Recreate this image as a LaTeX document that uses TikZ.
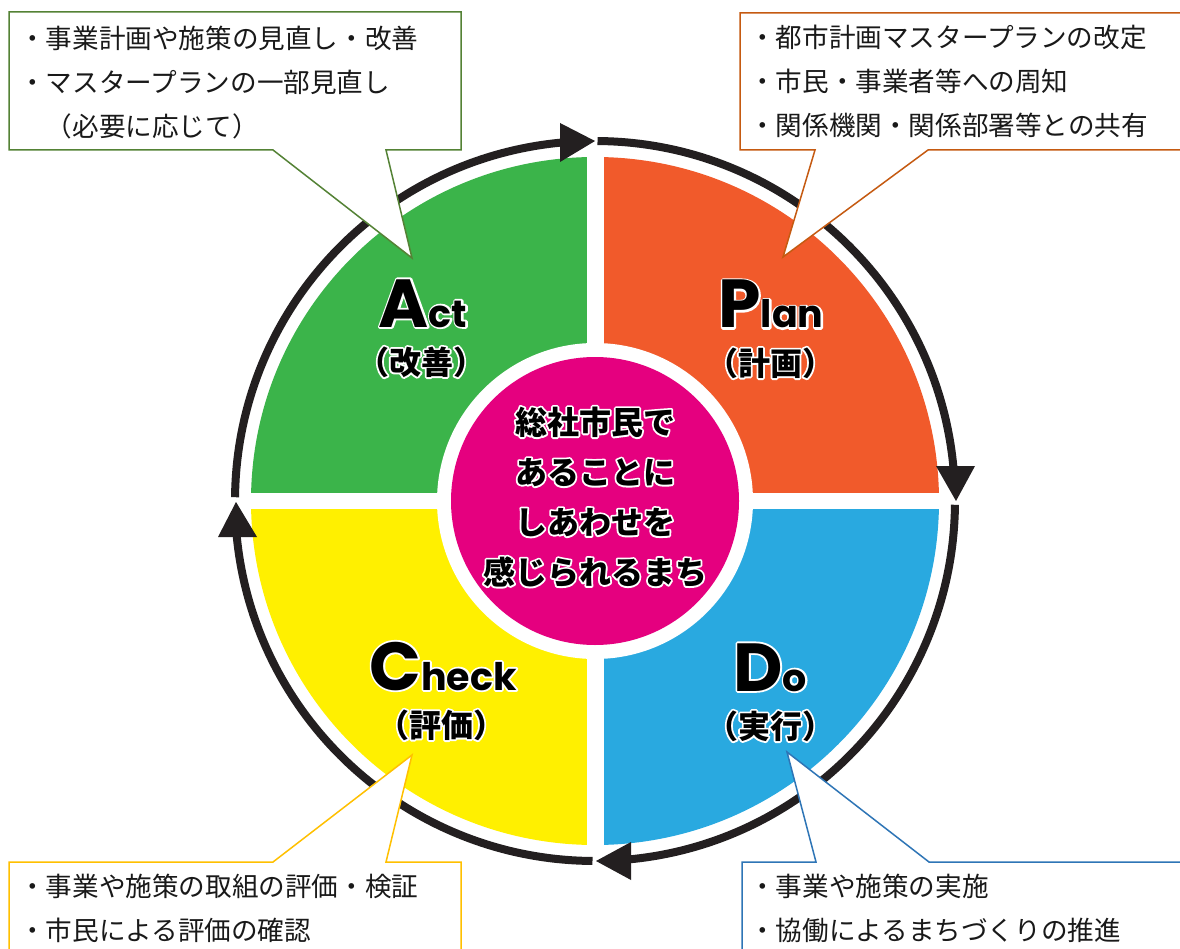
\documentclass[tikz,border=0pt]{standalone}
\usepackage{fontspec}
\newfontfamily\jp{Noto Sans CJK JP}
\newfontfamily\pop{Poppins}
\definecolor{cgreen}{HTML}{3BB44A}
\definecolor{corange}{HTML}{F15A2B}
\definecolor{cblue}{HTML}{29A9E0}
\definecolor{cyellow}{HTML}{FFF000}
\definecolor{cmag}{HTML}{E5007F}
\definecolor{ringc}{HTML}{231F20}
\definecolor{bgreen}{HTML}{548235}
\definecolor{borange}{HTML}{C55A11}
\definecolor{byellow}{HTML}{FFC000}
\definecolor{bblue}{HTML}{2E75B6}
% white outline drawn as a stroked copy under the black text
\newcommand\halo[1]{{\setbox0=\hbox{#1}%
\rlap{\special{pdf:literal direct 1 Tr 3.6 w 1 1 1 RG 1 J 1 j}\copy0\special{pdf:literal direct 0 Tr}}%
\copy0}}
\newcommand\pdcaword[2]{\halo{{\pop\bfseries\fontsize{68}{68}\selectfont #1}{\pop\bfseries\fontsize{38}{38}\selectfont #2}}}
\begin{document}
\begin{tikzpicture}[x=1pt,y=-1pt,
  ring/.style={draw=ringc, line width=8},
  tipfill/.style={fill=ringc},
  callout/.style={fill=white, line width=1.5, line join=miter},
  ctext/.style={anchor=west, align=left, inner sep=0, font=\jp\fontsize{26.6}{44}\selectfont, text=black!90},
  word/.style={anchor=base, inner sep=0, text=black},
  jlab/.style={inner sep=0, font=\jp\bfseries\fontsize{32}{32}\selectfont, text=black},
  ctr/.style={inner sep=0, align=center, font=\jp\bfseries\fontsize{32}{50}\selectfont, text=black}]
\useasboundingbox (0,0) rectangle (1180,949);
\clip (0,0) rectangle (1180,949);
\fill[white] (0,0) rectangle (1180,949);
\coordinate (c) at (595,501);
% quadrants
\fill[cgreen]  (c) -- ++(180:344) arc[start angle=180, end angle=270, radius=344] -- cycle;
\fill[corange] (c) -- ++(270:344) arc[start angle=270, end angle=360, radius=344] -- cycle;
\fill[cblue]   (c) -- ++(0:344) arc[start angle=0, end angle=90, radius=344] -- cycle;
\fill[cyellow] (c) -- ++(90:344) arc[start angle=90, end angle=180, radius=344] -- cycle;
\draw[white, line width=16] ([xshift=-350]c) -- ([xshift=350]c);
\draw[white, line width=17] ([yshift=-350]c) -- ([yshift=350]c);
\fill[white] (c) circle[radius=158];
\fill[cmag] (c) circle[radius=144];
% ring
\draw[ring] ([shift={(180.6:360)}]c) arc[start angle=180.6, end angle=267, radius=360];
\draw[ring] ([shift={(270.4:360)}]c) arc[start angle=270.4, end angle=357, radius=360];
\draw[ring] ([shift={(0.6:360)}]c) arc[start angle=0.6, end angle=87, radius=360];
\draw[ring] ([shift={(90.4:360)}]c) arc[start angle=90.4, end angle=177, radius=360];
\fill[tipfill] (595,141) -- (560,123) -- (560,162) -- cycle;
\fill[tipfill] (956,501) -- (936,466) -- (975,466) -- cycle;
\fill[tipfill] (596,861) -- (631,842) -- (631,880) -- cycle;
\fill[tipfill] (236,502) -- (218,537) -- (257,537) -- cycle;
% callouts
\draw[callout, draw=bgreen] (9,12) -- (461,12) -- (461,150) -- (386,150) -- (412,258) -- (273,150) -- (9,150) -- cycle;
\draw[callout, draw=borange] (740,13) -- (1190,13) -- (1190,150) -- (928,150) -- (783,257) -- (815,150) -- (740,150) -- cycle;
\draw[callout, draw=byellow] (9,862) -- (273,862) -- (412,755) -- (386,862) -- (461,862) -- (461,960) -- (9,960) -- cycle;
\draw[callout, draw=bblue] (742,862) -- (816,862) -- (787,752) -- (929,862) -- (1190,862) -- (1190,960) -- (742,960) -- cycle;
% callout texts
\node[ctext] (tact) at (19,83) {・事業計画や施策の見直し・改善\\・マスタープランの一部見直し\\　（必要に応じて）};
\node[ctext] (tplan) at (749,81) {・都市計画マスタープランの改定\\・市民・事業者等への周知\\・関係機関・関係部署等との共有};
\node[ctext] (tcheck) at (19,908) {・事業や施策の取組の評価・検証\\・市民による評価の確認};
\node[ctext] (tdo) at (749,908) {・事業や施策の実施\\・協働によるまちづくりの推進};
% labels
\node[word] (wact) at (423,327) {\pdcaword{A}{ct}};
\node[jlab] (jact) at (421,362) {\halo{（改善）}};
\node[word] (wplan) at (771,328) {\pdcaword{P}{lan}};
\node[jlab] (jplan) at (770,363) {\halo{（計画）}};
\node[word] (wcheck) at (443,690) {\pdcaword{C}{heck}};
\node[jlab] (jcheck) at (441,725) {\halo{（評価）}};
\node[word] (wdo) at (770,691) {\pdcaword{D}{o}};
\node[jlab] (jdo) at (770,726) {\halo{（実行）}};
% centre
\node[ctr] (centre) at (595,497) {\halo{総社市民で}\\\halo{あることに}\\\halo{しあわせを}\\\halo{感じられるまち}};
\end{tikzpicture}
\end{document}
